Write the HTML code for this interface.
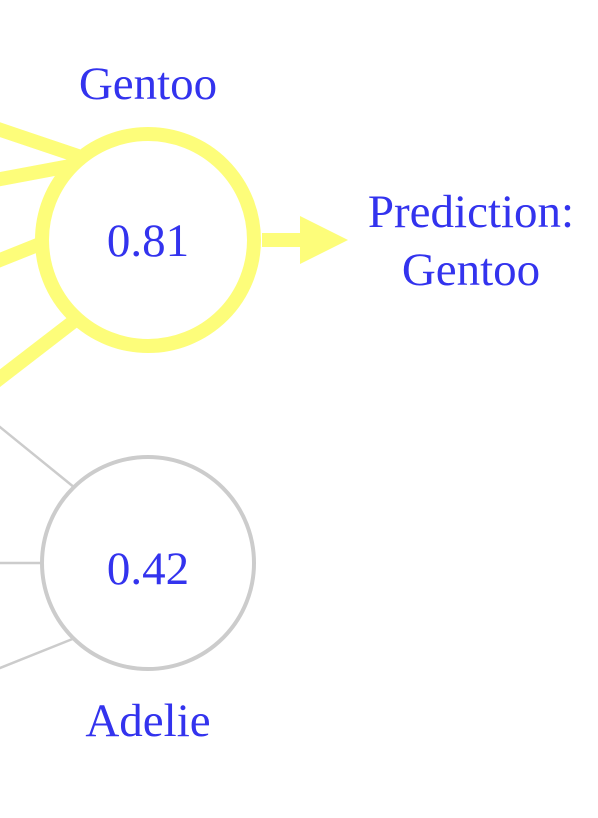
<!DOCTYPE html>
<html><head><style>body{margin:0;background:#fff}svg{display:block}</style></head><body>
<svg width="598" height="818" viewBox="0 0 598 818" xmlns="http://www.w3.org/2000/svg" font-family="Liberation Serif, serif" fill="#3333ee">
<g stroke="#fdfd7a" stroke-width="14" fill="none">
<line x1="-5" y1="128" x2="78" y2="156"/>
<line x1="-5" y1="180" x2="70" y2="166"/>
<line x1="-5" y1="262" x2="45" y2="242"/>
<line x1="-5" y1="382" x2="78" y2="318"/>
<line x1="262" y1="240" x2="305" y2="240"/>
<circle cx="148" cy="240" r="106" fill="#fff"/>
</g>
<polygon points="300,216 348,240 300,264" fill="#fdfd7a"/>
<g stroke="#cccccc" stroke-width="2.5" fill="none">
<line x1="-5" y1="423" x2="75" y2="488"/>
<line x1="-5" y1="563" x2="42" y2="563"/>
<line x1="-5" y1="670" x2="75" y2="638"/>
<circle cx="148" cy="563" r="106" stroke-width="4" fill="#fff"/>
</g>
<g font-size="47" text-anchor="middle">
<text x="148" y="99">Gentoo</text>
<text x="148" y="256">0.81</text>
<text x="471" y="227">Prediction:</text>
<text x="471" y="285">Gentoo</text>
<text x="148" y="584">0.42</text>
<text x="148" y="736">Adelie</text>
</g>
</svg>
</body></html>
